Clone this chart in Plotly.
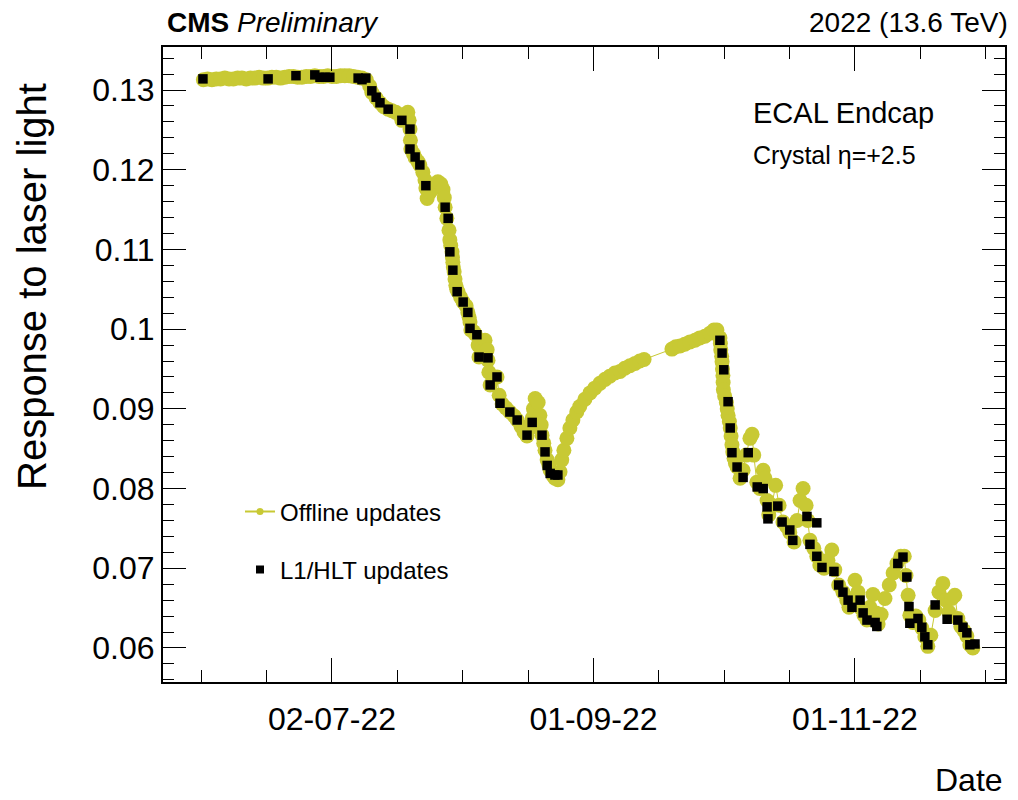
import numpy as np
import pandas as pd
import plotly.graph_objects as go

# ---------------- data (day of year 2022, response) ----------------
# Offline updates: plateau June - mid July
off_day_1 = [153, 154, 155, 156, 157, 158, 159, 160, 161, 162, 163, 164, 165, 166, 167, 168, 169, 170,
             171, 172, 173, 174, 175, 176, 177, 178, 179, 180, 181, 182, 183, 184, 185, 186, 187, 188,
             189, 190, 191]
off_val_1 = [0.1313, 0.1314, 0.1313, 0.1314, 0.1314, 0.1315, 0.1314, 0.1314, 0.1315, 0.1315, 0.1314,
             0.1315, 0.1315, 0.1316, 0.1315, 0.1315, 0.1316, 0.1316, 0.1315, 0.1316, 0.1317, 0.1317,
             0.1316, 0.1316, 0.1317, 0.1317, 0.1318, 0.1317, 0.1317, 0.1318, 0.1317, 0.1317, 0.1318,
             0.1318, 0.1318, 0.1317, 0.1316, 0.1315, 0.1313]

# Offline updates: first drop (July - August)
off_day_2 = [191.8, 192.3, 193.3, 194.2, 195.1, 196.1, 197.0, 197.9, 198.9, 199.3, 200.0, 200.7, 201.0,
             201.2, 201.3, 201.4, 202.0, 202.4, 203.1, 203.5, 204.2, 204.7, 204.9, 205.2, 205.9, 206.8,
             207.7, 208.4, 208.9, 209.2, 209.4, 209.8, 210.3, 210.5, 210.7, 211.0, 211.1, 211.2, 211.3,
             211.5, 211.7, 211.9, 212.1, 212.4, 213.0, 213.6, 214.3, 214.7, 215.0, 215.2, 215.4, 216.0,
             216.4, 217.1, 217.3, 218.0, 218.7, 219.2, 219.4, 219.6, 219.9, 220.8, 221.5, 222.0, 222.7,
             223.6, 224.5, 225.5, 226.2, 227.1, 227.8, 228.5, 229.2, 229.7, 230.0, 230.4, 231.1, 231.5,
             231.8, 232.0, 232.4, 232.7, 233.2, 233.6, 233.9, 234.6, 235.0, 235.7]
off_val_2 = [0.1305, 0.1297, 0.1290, 0.1284, 0.1279, 0.1276, 0.1274, 0.1272, 0.1269, 0.1262, 0.1269,
             0.1272, 0.1262, 0.1251, 0.1237, 0.1226, 0.1220, 0.1215, 0.1210, 0.1206, 0.1197, 0.1187,
             0.1177, 0.1164, 0.1172, 0.1180, 0.1185, 0.1182, 0.1175, 0.1165, 0.1153, 0.1139, 0.1124,
             0.1112, 0.1105, 0.1097, 0.1090, 0.1084, 0.1078, 0.1072, 0.1063, 0.1055, 0.1050, 0.1047,
             0.1040, 0.1034, 0.1029, 0.1021, 0.1015, 0.1009, 0.0999, 0.0997, 0.0994, 0.0980, 0.0965,
             0.0976, 0.0986, 0.0974, 0.0961, 0.0946, 0.0930, 0.0939, 0.0940, 0.0917, 0.0906, 0.0901,
             0.0896, 0.0891, 0.0886, 0.0878, 0.0871, 0.0866, 0.0876, 0.0888, 0.0900, 0.0913, 0.0908,
             0.0892, 0.0880, 0.0867, 0.0857, 0.0848, 0.0836, 0.0830, 0.0823, 0.0816, 0.0813, 0.0811]

# Offline updates: recovery (end August - September)
off_day_3 = [236.2, 236.6, 237.1, 237.8, 238.5, 239.2, 240.1, 240.8, 242.0, 243.2, 244.3, 245.5, 246.7,
             247.8, 249.0, 250.2, 251.3, 252.5, 253.7, 254.8, 255.8,
             262.3, 263.2, 264.2, 265.3, 266.5, 267.7, 268.8, 270.0, 271.2, 272.1, 272.8]
off_val_3 = [0.0821, 0.0836, 0.0848, 0.0863, 0.0876, 0.0886, 0.0896, 0.0903, 0.0912, 0.0920, 0.0926,
             0.0932, 0.0937, 0.0941, 0.0945, 0.0947, 0.0951, 0.0954, 0.0957, 0.0960, 0.0962,
             0.0975, 0.0978, 0.0979, 0.0981, 0.0984, 0.0986, 0.0989, 0.0991, 0.0995, 0.0999, 0.0999]

# Offline updates: second drop (October - November)
off_day_4 = [273.5, 273.6, 273.7, 273.9, 274.0, 274.1, 274.2, 274.25, 274.3, 274.6, 275.0, 275.2, 275.4,
             275.7, 275.9, 276.1, 276.3, 276.5, 276.8, 277.1, 277.5, 278.2, 278.9,
             279.6, 280.5, 281.0, 281.4, 282.1, 282.8, 283.6, 284.0, 284.5, 284.9, 285.6, 286.5, 287.3,
             288.2, 289.1, 289.8, 290.8, 291.5, 292.2, 292.9, 293.6, 294.0, 294.5, 295.4, 296.1, 296.8,
             297.8, 298.7, 299.6, 300.3, 301.2, 302.2, 303.1, 303.6, 304.3, 305.0, 305.7, 306.4, 307.1,
             307.8, 308.5, 309.2, 309.9, 310.4, 311.1, 312.0, 313.0, 313.9, 314.8, 315.7, 316.5, 316.9,
             317.4, 317.8, 318.5, 319.2, 319.9, 320.6, 321.3, 322.0, 322.7, 323.7, 324.6, 325.5, 326.2,
             326.9, 327.6, 328.3, 329.0, 329.7, 330.4, 331.1, 331.8, 332.5]
off_val_4 = [0.0989, 0.0982, 0.0974, 0.0966, 0.0959, 0.0950, 0.0942, 0.0933, 0.0924, 0.0916, 0.0908,
             0.0900, 0.0892, 0.0884, 0.0876, 0.0866, 0.0855, 0.0846, 0.0838, 0.0832, 0.0827,
             0.0813, 0.0823, 0.0842, 0.0863, 0.0868, 0.0842, 0.0808, 0.0800, 0.0823, 0.0813, 0.0785,
             0.0767, 0.0779, 0.0804, 0.0779, 0.0758, 0.0752, 0.0745, 0.0733, 0.0760, 0.0785, 0.0800,
             0.0779, 0.0760, 0.0735, 0.0725, 0.0715, 0.0704, 0.0700, 0.0710, 0.0723, 0.0698, 0.0679,
             0.0670, 0.0660, 0.0651, 0.0662, 0.0685, 0.0670, 0.0650, 0.0641, 0.0635, 0.0651, 0.0667,
             0.0644, 0.0630, 0.0642, 0.0662, 0.0679, 0.0694, 0.0706, 0.0715, 0.0715, 0.0691, 0.0666,
             0.0641, 0.0632, 0.0640, 0.0635, 0.0625, 0.0614, 0.0602, 0.0616, 0.0647, 0.0670, 0.0681,
             0.0660, 0.0645, 0.0662, 0.0666, 0.0637, 0.0627, 0.0622, 0.0615, 0.0604, 0.0600]

# L1/HLT updates
l1_day = [152.9, 168.1, 174.6, 179.0, 180.2, 181.4, 182.5, 189.1, 190.0, 190.9,
          192.3, 193.3, 194.2, 196.1, 199.3, 201.2, 201.2, 202.4, 203.5, 204.9,
          209.4, 210.1, 210.5, 211.2, 212.2, 213.6, 214.7, 215.2, 216.8, 217.3,
          219.4, 221.5, 219.9, 222.2, 224.5, 226.2, 228.5, 229.7, 232.0, 232.7,
          233.2, 233.9, 235.0, 235.7,
          273.5, 274.0, 274.4, 275.4, 275.9, 276.3, 277.5, 278.9, 280.1, 282.2,
          283.6, 284.5, 284.7, 287.0, 288.0, 289.8, 290.5, 293.8, 296.1, 294.5,
          296.1, 297.3, 300.1, 301.2, 302.2, 303.4, 304.3, 306.2, 306.9, 307.8,
          309.7, 310.1, 315.0, 316.2, 317.1, 317.6, 317.8, 319.7, 320.6, 321.3,
          322.0, 323.7, 326.5, 329.0, 330.2, 331.1, 331.8, 333.0]
l1_val = [0.1314, 0.1314, 0.1318, 0.1319, 0.1316, 0.1316, 0.1316, 0.1315, 0.1313, 0.1315,
          0.1299, 0.1291, 0.1284, 0.1276, 0.1262, 0.1251, 0.1226, 0.1216, 0.1206, 0.1180,
          0.1153, 0.1139, 0.1097, 0.1074, 0.1047, 0.1034, 0.1021, 0.1001, 0.0993, 0.0965,
          0.0964, 0.0940, 0.0930, 0.0907, 0.0896, 0.0886, 0.0867, 0.0883, 0.0867, 0.0846,
          0.0829, 0.0819, 0.0817, 0.0817,
          0.0986, 0.0970, 0.0949, 0.0909, 0.0876, 0.0845, 0.0827, 0.0814, 0.0845, 0.0802,
          0.0800, 0.0777, 0.0762, 0.0778, 0.0758, 0.0748, 0.0735, 0.0765, 0.0757, 0.0730,
          0.0715, 0.0701, 0.0696, 0.0679, 0.0670, 0.0660, 0.0651, 0.0660, 0.0644, 0.0635,
          0.0632, 0.0627, 0.0706, 0.0714, 0.0689, 0.0652, 0.0631, 0.0637, 0.0626, 0.0614,
          0.0604, 0.0654, 0.0636, 0.0635, 0.0626, 0.0619, 0.0604, 0.0605]

x_tick_dates = ["2022-07-02", "2022-09-01", "2022-11-01"]
x_tick_text = ["02-07-22", "01-09-22", "01-11-22"]
y_tick_vals = [0.06, 0.07, 0.08, 0.09, 0.10, 0.11, 0.12, 0.13]
y_tick_text = ["0.06", "0.07", "0.08", "0.09", "0.1", "0.11", "0.12", "0.13"]

x_range = ["2022-05-23 14:00", "2022-12-06 00:00"]
y_range = [0.05573, 0.13540]

# ---------------- helpers ----------------
def to_dates(days):
    return pd.Timestamp("2022-01-01") + pd.to_timedelta(np.asarray(days, dtype=float) - 1.0, unit="D")

off_day = off_day_1 + off_day_2 + off_day_3 + off_day_4
off_val = off_val_1 + off_val_2 + off_val_3 + off_val_4

YEL = "#c8c934"
FONT = "Liberation Sans, Arial, Helvetica, sans-serif"

fig = go.Figure()
fig.add_trace(go.Scatter(
    x=to_dates(off_day), y=off_val, mode="lines+markers",
    line=dict(color=YEL, width=1),
    marker=dict(color=YEL, size=15, symbol="circle", line=dict(width=0)),
    showlegend=False, hoverinfo="skip"))
fig.add_trace(go.Scatter(
    x=to_dates(l1_day), y=l1_val, mode="markers",
    marker=dict(color="black", size=9.5, symbol="square", line=dict(width=0)),
    showlegend=False, hoverinfo="skip"))

# legend entries
fig.add_trace(go.Scatter(x=[None], y=[None], mode="lines+markers", name="Offline updates",
                         line=dict(color=YEL, width=2), marker=dict(color=YEL, size=7),
                         legend="legend"))
fig.add_trace(go.Scatter(x=[None], y=[None], mode="markers", name="L1/HLT updates",
                         marker=dict(color="black", size=8, symbol="square"),
                         legend="legend2"))

L, R, T, B = 163, 1005, 47, 682
W, H = 1018, 800
def px(xp):
    return (xp - L) / (R - L)
def py(yp):
    return (B - yp) / (B - T)

axis_common = dict(showline=True, linecolor="black", linewidth=2, mirror="ticks",
                   ticks="inside", tickcolor="black", tickwidth=1,
                   showgrid=False, zeroline=False)

fig.update_layout(
    width=W, height=H,
    margin=dict(l=L, r=W - R, t=T, b=H - B, pad=0),
    paper_bgcolor="white", plot_bgcolor="white",
    font=dict(family=FONT, color="black"),
    xaxis=dict(type="date", range=x_range, tickmode="array",
               tickvals=x_tick_dates, ticktext=x_tick_text, ticklen=24,
               tickfont=dict(size=32, family=FONT), ticklabelstandoff=8,
               minor=dict(ticks="inside", ticklen=12, tickcolor="black", tickwidth=1,
                          tick0="2022-07-02", dtick=15.25 * 86400000, showgrid=False),
               **axis_common),
    yaxis=dict(range=y_range, tickmode="array", tickvals=y_tick_vals, ticktext=y_tick_text,
               ticklen=23, tickfont=dict(size=32, family=FONT),
               minor=dict(ticks="inside", ticklen=11, tickcolor="black", tickwidth=1,
                          tick0=0.06, dtick=0.002, showgrid=False),
               **axis_common),
    legend=dict(x=px(240), y=py(512), xanchor="left", yanchor="middle",
                font=dict(size=24, family=FONT), bgcolor="rgba(0,0,0,0)"),
    legend2=dict(x=px(240), y=py(570), xanchor="left", yanchor="middle",
                 font=dict(size=24, family=FONT), bgcolor="rgba(0,0,0,0)"),
)

ann = [
    dict(text="<b>CMS</b> <i>Preliminary</i>", x=px(165), y=py(22), xanchor="left", yanchor="middle",
         font=dict(size=28)),
    dict(text="2022 (13.6 TeV)", x=px(1010), y=py(22), xanchor="right", yanchor="middle",
         font=dict(size=28)),
    dict(text="ECAL Endcap", x=px(751), y=py(113), xanchor="left", yanchor="middle",
         font=dict(size=29)),
    dict(text="Crystal η=+2.5", x=px(751), y=py(155), xanchor="left", yanchor="middle",
         font=dict(size=25)),
    dict(text="Date", x=px(1005), y=py(780), xanchor="right", yanchor="middle",
         font=dict(size=32)),
    dict(text="Response to laser light", x=px(32), y=py(287), xanchor="center", yanchor="middle",
         textangle=-90, font=dict(size=40)),
]
for a in ann:
    a.update(xref="paper", yref="paper", showarrow=False)
    a["font"]["family"] = FONT
    a["font"]["color"] = "black"
fig.update_layout(annotations=ann)

fig.write_html("out.html")
